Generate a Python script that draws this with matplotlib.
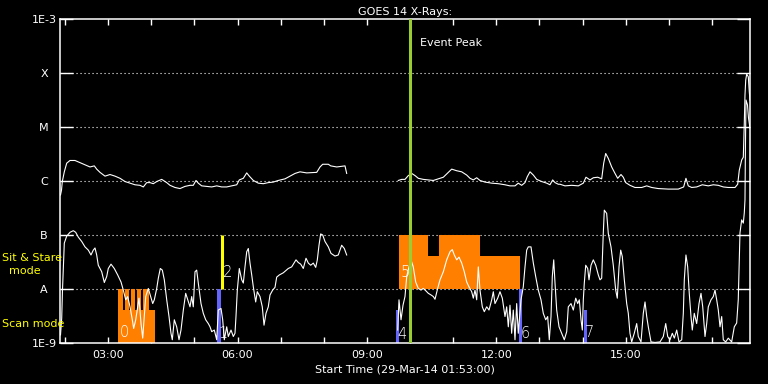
import matplotlib
matplotlib.use("Agg")
import matplotlib.pyplot as plt
import numpy as np

nan = float("nan")

# plot window: 01:53 start, 16 hours
t_start = 1 + 53/60
t_end = t_start + 16

# GOES 14 long channel (1-8 A), time in hours UT, log10 flux
long_t = [1.895, 1.918, 1.937, 1.983, 2.039, 2.115, 2.231, 2.347, 2.463, 2.579,
          2.679, 2.734, 2.811, 2.927, 3.043, 3.159, 3.275, 3.391, 3.507, 3.622,
          3.738, 3.815, 3.894, 3.970, 4.047, 4.126, 4.242, 4.358, 4.434, 4.550,
          4.666, 4.782, 4.898, 4.974, 5.037, 5.090, 5.169, 5.285, 5.401, 5.517,
          5.633, 5.749, 5.865, 5.981, 6.041, 6.134, 6.213, 6.273, 6.366, 6.482,
          6.598, 6.713, 6.829, 6.945, 7.101, 7.217, 7.333, 7.449, 7.604, 7.836,
          7.913, 7.975, 8.105, 8.161, 8.300, 8.492, 8.531, nan,
          9.728, 9.807, 9.883, 9.960, 10.039, 10.116, 10.192, 10.308, 10.424, 10.540,
          10.656, 10.772, 10.864, 10.966, 11.082, 11.198, 11.314, 11.391, 11.467, 11.546,
          11.622, 11.738, 11.894, 12.047, 12.202, 12.318, 12.434, 12.510, 12.589, 12.666,
          12.719, 12.782, 12.859, 12.937, 13.053, 13.169, 13.245, 13.308, 13.362, 13.438,
          13.478, 13.593, 13.749, 13.902, 14.018, 14.080, 14.173, 14.250, 14.352, 14.444,
          14.491, 14.537, 14.597, 14.676, 14.753, 14.815, 14.892, 14.945, 15.001, 15.100,
          15.216, 15.372, 15.488, 15.603, 15.756, 15.988, 16.220, 16.345, 16.398, 16.452,
          16.531, 16.647, 16.777, 16.916, 17.032, 17.148, 17.264, 17.380, 17.536, 17.598,
          17.635, 17.691, 17.728, 17.751, 17.767, 17.784, 17.807, 17.844, 17.867, 17.883]
long_f = [-6.26, -6.17, -6.01, -5.83, -5.67, -5.62, -5.62, -5.66, -5.70, -5.74,
          -5.72, -5.78, -5.84, -5.91, -5.88, -5.91, -5.95, -6.01, -6.04, -6.07,
          -6.08, -6.11, -6.03, -6.03, -6.05, -6.01, -5.97, -6.03, -6.08, -6.12,
          -6.14, -6.10, -6.08, -6.08, -5.99, -6.04, -6.09, -6.10, -6.11, -6.09,
          -6.11, -6.11, -6.09, -6.07, -5.98, -5.95, -5.85, -5.91, -5.99, -6.04,
          -6.05, -6.03, -6.02, -5.99, -5.96, -5.91, -5.86, -5.83, -5.85, -5.84,
          -5.74, -5.69, -5.69, -5.72, -5.74, -5.72, -5.86, nan,
          -5.99, -5.97, -5.97, -5.90, -5.86, -5.90, -5.95, -5.97, -5.98, -5.99,
          -5.96, -5.93, -5.86, -5.78, -5.81, -5.83, -5.89, -5.95, -5.98, -5.94,
          -5.99, -6.02, -6.04, -6.05, -6.07, -6.09, -6.09, -6.04, -6.08, -6.03,
          -5.92, -5.83, -5.89, -5.97, -6.01, -6.04, -6.07, -5.98, -6.03, -6.06,
          -6.06, -6.09, -6.08, -6.09, -6.04, -5.93, -5.98, -5.94, -5.93, -5.96,
          -5.67, -5.49, -5.58, -5.74, -5.86, -5.95, -5.88, -5.93, -6.03, -6.08,
          -6.12, -6.12, -6.09, -6.12, -6.14, -6.15, -6.15, -6.11, -5.95, -6.09,
          -6.12, -6.11, -6.07, -6.09, -6.07, -6.08, -6.11, -6.12, -6.12, -6.06,
          -5.80, -5.61, -5.56, -4.93, -4.41, -4.13, -4.02, -4.07, -4.35, -4.50]

# short channel (0.5-4 A)
short_t = [1.895, 1.923, 1.941, 1.983, 2.039, 2.115, 2.192, 2.247, 2.308, 2.387,
           2.463, 2.540, 2.602, 2.655, 2.695, 2.734, 2.771, 2.850, 2.911, 2.966,
           3.003, 3.066, 3.142, 3.221, 3.298, 3.351, 3.407, 3.453, 3.507, 3.560,
           3.592, 3.639, 3.685, 3.715, 3.762, 3.801, 3.838, 3.871, 3.931, 3.987,
           4.033, 4.070, 4.126, 4.163, 4.209, 4.256, 4.302, 4.358, 4.411, 4.457,
           4.487, 4.534, 4.589, 4.643, 4.689, 4.743, 4.798, 4.845, 4.898, 4.937,
           4.974, 5.014, 5.053, 5.090, 5.153, 5.206, 5.262, 5.322, 5.362, 5.401,
           5.461, 5.517, 5.554, 5.617, 5.656, 5.693, 5.749, 5.786, 5.849, 5.902,
           5.941, 5.964, 5.995, 6.041, 6.097, 6.134, 6.173, 6.213, 6.250, 6.289,
           6.329, 6.366, 6.421, 6.458, 6.521, 6.574, 6.614, 6.660, 6.713, 6.753,
           6.815, 6.869, 6.908, 6.969, 7.061, 7.177, 7.256, 7.310, 7.356, 7.409,
           7.465, 7.525, 7.588, 7.641, 7.697, 7.757, 7.813, 7.850, 7.889, 7.928,
           7.975, 8.028, 8.105, 8.167, 8.260, 8.336, 8.415, 8.476, 8.531, nan,
           9.714, 9.744, 9.791, 9.837, 9.883, 9.923, 9.976, 10.022, 10.075, 10.131,
           10.192, 10.254, 10.308, 10.363, 10.424, 10.486, 10.540, 10.579, 10.641, 10.695,
           10.772, 10.850, 10.927, 10.980, 11.026, 11.082, 11.135, 11.198, 11.258, 11.314,
           11.367, 11.430, 11.467, 11.506, 11.546, 11.583, 11.622, 11.676, 11.722, 11.778,
           11.831, 11.894, 11.931, 11.970, 12.033, 12.086, 12.140, 12.202, 12.241, 12.279,
           12.318, 12.357, 12.394, 12.434, 12.473, 12.510, 12.573, 12.626, 12.666, 12.705,
           12.742, 12.805, 12.859, 12.914, 12.974, 13.037, 13.090, 13.146, 13.192, 13.229,
           13.269, 13.299, 13.332, 13.362, 13.401, 13.455, 13.517, 13.577, 13.633, 13.670,
           13.733, 13.786, 13.842, 13.888, 13.925, 13.965, 13.995, 14.018, 14.041, 14.074,
           14.120, 14.150, 14.197, 14.250, 14.306, 14.366, 14.405, 14.444, 14.481, 14.505,
           14.560, 14.597, 14.660, 14.713, 14.769, 14.806, 14.846, 14.885, 14.922, 14.969,
           15.024, 15.061, 15.100, 15.140, 15.200, 15.256, 15.293, 15.356, 15.409, 15.449,
           15.488, 15.525, 15.588, 15.680, 15.796, 15.873, 15.929, 15.975, 16.028, 16.082,
           16.129, 16.184, 16.237, 16.300, 16.337, 16.360, 16.398, 16.438, 16.475, 16.515,
           16.545, 16.591, 16.647, 16.701, 16.747, 16.787, 16.840, 16.879, 16.916, 16.979,
           17.032, 17.072, 17.111, 17.148, 17.188, 17.227, 17.264, 17.320, 17.380, 17.458,
           17.519, 17.574, 17.611, 17.627, 17.651, 17.674, 17.690, 17.728, 17.751, 17.767,
           17.779, 17.791, 17.825, 17.848, 17.883]
short_f = [-8.85, -8.54, -8.02, -7.15, -7.02, -6.95, -6.92, -6.95, -7.04, -7.12,
           -7.22, -7.28, -7.37, -7.28, -7.24, -7.37, -7.56, -7.68, -7.88, -7.77,
           -7.62, -7.54, -7.62, -7.74, -7.87, -8.02, -8.20, -8.14, -8.33, -8.57,
           -8.73, -8.57, -8.33, -8.17, -8.64, -8.91, -8.51, -8.14, -7.99, -8.14,
           -8.27, -8.20, -7.99, -7.80, -7.62, -7.65, -7.83, -8.20, -8.51, -8.82,
           -8.94, -8.57, -8.70, -8.94, -8.76, -8.39, -8.08, -8.20, -8.33, -8.14,
           -8.33, -7.68, -7.65, -7.89, -8.27, -8.45, -8.57, -8.64, -8.70, -8.79,
           -8.76, -8.94, -8.39, -8.36, -8.57, -8.94, -8.70, -8.88, -8.76, -8.88,
           -8.82, -8.51, -8.02, -7.62, -7.83, -7.89, -7.59, -7.31, -7.25, -7.52,
           -7.74, -7.96, -8.24, -8.05, -8.14, -8.33, -8.67, -8.45, -8.33, -8.11,
           -8.02, -7.97, -7.78, -7.74, -7.70, -7.62, -7.59, -7.52, -7.46, -7.51,
           -7.54, -7.62, -7.43, -7.52, -7.56, -7.52, -7.60, -7.46, -7.19, -6.98,
           -7.00, -7.12, -7.22, -7.34, -7.39, -7.37, -7.19, -7.25, -7.37, nan,
           -8.76, -8.20, -8.57, -8.30, -8.14, -7.77, -7.59, -7.46, -7.59, -7.87,
           -7.99, -8.02, -7.99, -8.03, -8.08, -8.11, -8.14, -8.19, -7.99, -7.83,
           -7.68, -7.46, -7.31, -7.27, -7.37, -7.46, -7.41, -7.52, -7.68, -7.87,
           -7.96, -8.05, -8.17, -8.02, -8.20, -7.59, -8.02, -8.33, -8.42, -8.33,
           -8.39, -8.20, -8.05, -8.27, -8.17, -8.05, -8.17, -8.51, -8.33, -8.70,
           -8.30, -8.82, -8.39, -8.94, -8.27, -8.82, -8.20, -7.96, -7.59, -7.28,
           -7.22, -7.22, -7.52, -7.77, -8.02, -8.20, -8.45, -8.57, -8.51, -8.94,
           -8.51, -7.77, -7.46, -7.89, -8.39, -8.70, -8.82, -8.94, -8.79, -8.33,
           -8.27, -8.39, -8.17, -8.27, -8.20, -8.57, -8.76, -8.20, -7.89, -7.56,
           -7.62, -7.83, -7.56, -7.46, -7.56, -7.74, -7.83, -7.80, -6.97, -6.54,
           -6.60, -6.97, -7.22, -7.56, -8.02, -8.17, -7.59, -7.28, -7.40, -7.83,
           -8.27, -8.45, -8.82, -8.98, -8.82, -8.64, -8.88, -8.98, -8.45, -8.24,
           -8.51, -8.70, -8.98, -8.99, -8.98, -8.88, -8.64, -8.88, -8.94, -8.82,
           -8.91, -8.76, -8.98, -8.94, -8.45, -7.83, -7.37, -7.59, -8.08, -8.51,
           -8.76, -8.45, -8.64, -8.27, -8.08, -8.33, -8.88, -8.64, -8.33, -8.20,
           -8.14, -8.02, -8.20, -8.39, -8.70, -8.51, -8.94, -8.98, -8.91, -8.98,
           -8.70, -8.63, -8.20, -7.70, -6.96, -6.82, -6.72, -6.78, -6.59, -6.35,
           -5.24, -4.50, -4.59, -4.83, -5.02]

# observation blocks (orange): start, end, bottom / top in log10 flux
orange_t0 = ["03:14", "03:14", "03:24", "03:32", "03:40", "03:48",
             "09:45", "10:25", "10:40", "11:37"]
orange_t1 = ["04:05", "03:21", "03:29", "03:37", "03:45", "03:57",
             "10:25", "10:40", "11:37", "12:33"]
orange_lo = [-9, -9, -9, -9, -9, -9, -8, -8, -8, -8]
orange_hi = [-8.39, -8, -8, -8, -8, -8, -7, -7.39, -7, -7.39]

# scan mode rasters (blue)
blue_t0 = ["05:32", "09:40", "12:32", "14:02"]
blue_t1 = ["05:37", "09:45", "12:36", "14:06"]
blue_hi = [-8, -8.39, -8, -8.39]

stare_t = "05:38"
peak_t = "10:00"

obs_num = ["0", "1", "2", "4", "5", "6", "7"]
obs_num_t = ["03:14", "05:32", "05:38", "09:40", "09:45", "12:32", "14:02"]
obs_num_f = [-8.8, -8.82, -7.69, -8.84, -7.69, -8.82, -8.8]

level_names = ["1E-9", "A", "B", "C", "M", "X", "1E-3"]


def hrs(s):
    h, m = s.split(":")
    return int(h) + int(m) / 60


fig = plt.figure(figsize=(7.68, 3.84), dpi=100, facecolor="black")
ax = fig.add_axes([60/768, 41/384, 690/768, 324/384])
ax.set_facecolor("black")
ax.set_yscale("log")
ax.set_xlim(t_start, t_end)
ax.set_ylim(1e-9, 1e-3)

# dotted level lines
for e in range(-8, -3):
    ax.axhline(10.0**e, color="white", lw=0.8, ls=(0, (1, 2.6)), zorder=1)

for a, b, lo, hi in zip(orange_t0, orange_t1, orange_lo, orange_hi):
    ax.bar(hrs(a), 10**hi - 10**lo, width=hrs(b) - hrs(a), bottom=10**lo,
           align="edge", color="#ff8000", lw=0, zorder=2)
for a, b, hi in zip(blue_t0, blue_t1, blue_hi):
    ax.bar(hrs(a), 10**hi - 1e-9, width=hrs(b) - hrs(a), bottom=1e-9,
           align="edge", color="#6464ff", lw=0, zorder=2)
ax.vlines(hrs(stare_t), 1e-8, 1e-7, color="yellow", lw=2.2, zorder=2)

ax.plot(long_t, 10**np.array(long_f), color="white", lw=0.8, zorder=3)
ax.plot(short_t, 10**np.array(short_f), color="white", lw=0.8, zorder=3)

ax.axvline(hrs(peak_t), color="#9acd32", lw=2.2, zorder=4)
ax.annotate("Event Peak", xy=(hrs(peak_t), 0.926), xycoords=("data", "axes fraction"),
            xytext=(7, 0), textcoords="offset points", color="white",
            fontsize=8, va="center")

for s, t, f in zip(obs_num, obs_num_t, obs_num_f):
    ax.annotate(s, xy=(hrs(t), 10**f), xytext=(1, 0), textcoords="offset points",
                color="white", fontsize=10.5, fontweight="light",
                ha="left", va="center", zorder=5)

# axes
hours = np.arange(2, 18)
ax.set_xticks(hours)
ax.set_xticklabels(["%02d:00" % h if h % 3 == 0 else "" for h in hours])
ax.tick_params(axis="x", direction="in", top=True, bottom=True, length=4,
               width=1, colors="white", labelsize=8, pad=5)
ax.set_yticks([10.0**e for e in range(-9, -2)])
ax.set_yticklabels(level_names)
ax.yaxis.set_minor_locator(matplotlib.ticker.NullLocator())
ax.tick_params(axis="y", direction="in", left=True, right=True, length=9.5,
               width=1, colors="white", labelsize=8, pad=11.5)
for lab in ax.get_yticklabels():
    lab.set_horizontalalignment("center")
for sp in ax.spines.values():
    sp.set_color("white")
    sp.set_linewidth(1.1)

ax.set_title("GOES 14 X-Rays:", color="white", fontsize=8, pad=3)
ax.set_xlabel("Start Time (29-Mar-14 01:53:00)", color="white", fontsize=8, labelpad=3)

fig.text(2/768, 1 - 258/384, "Sit & Stare", color="yellow", fontsize=8, va="center")
fig.text(24.5/768, 1 - 271/384, "mode", color="yellow", fontsize=8, va="center", ha="center")
fig.text(2/768, 1 - 324/384, "Scan mode", color="yellow", fontsize=8, va="center")

fig.savefig("out.png", dpi=100, facecolor="black")
